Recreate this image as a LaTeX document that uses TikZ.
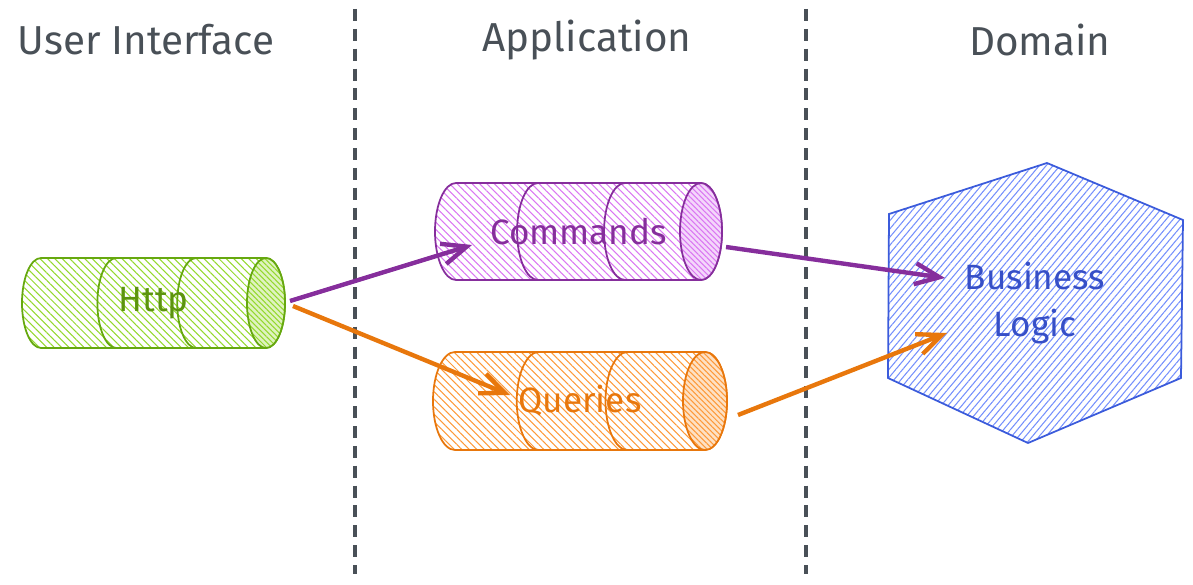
\documentclass[tikz,border=0pt]{standalone}
\usepackage{fontspec}
\setmainfont{Fira Sans}
\usetikzlibrary{arrows.meta,positioning,calc,patterns.meta,backgrounds}
\definecolor{uigray}{HTML}{495057}
\definecolor{httpline}{HTML}{66A80F}
\definecolor{httphatch}{HTML}{94D82D}
\definecolor{httptext}{HTML}{5C940D}
\definecolor{cmdline}{HTML}{862E9C}
\definecolor{cmdhatch}{HTML}{DA77F2}
\definecolor{qryline}{HTML}{E8770C}
\definecolor{qryhatch}{HTML}{FD9A3A}
\definecolor{domline}{HTML}{3B5BDB}
\definecolor{domhatch}{HTML}{748FFC}
\definecolor{domtext}{HTML}{364FC7}

\begin{document}
\begin{tikzpicture}[every node/.style={font=\fontsize{20}{27}\selectfont},
  heading/.style={text=uigray, font=\fontsize{23}{27}\selectfont},
  pipe/.style={inner sep=0pt, outer sep=0pt},
  divider/.style={draw=uigray, line width=2.3pt, dash pattern=on 6.8pt off 4.5pt},
  outline/.style={line width=1pt},
  arr/.style={line width=2.5pt, -{Straight Barb[length=14pt, width=12pt]}}]
\useasboundingbox (0,0) rectangle (23.86,11.68);
% column titles
\node[heading] (ui) at (2.92,10.88) {User Interface};
\node[heading] (app) at (11.74,10.88) {Application};
\node[heading] (dom) at (20.8,10.88) {Domain};
\draw[divider] (7.1,11.5) -- (7.1,0.2);
\draw[divider] (16.12,11.5) -- (16.12,0.2);
% pipes and the domain
\node[pipe, minimum width=4.5cm, minimum height=1.8cm, text=httptext] (http) at (3.07,5.62) {Http};
\node[pipe, minimum width=4.9cm, minimum height=1.94cm, text=cmdline] (cmd) at (11.57,7.05) {Commands};
\node[pipe, minimum width=5cm, minimum height=1.96cm, text=qryline] (qry) at (11.6,3.66) {Queries};
\node[text=domtext, align=center] (logic) at (20.7,5.62) {Business\\Logic};
\begin{scope}[on background layer]
\foreach \n/\ln/\hc/\rx/\ry in {http/httpline/httphatch/0.38cm/0.9cm, cmd/cmdline/cmdhatch/0.42cm/0.97cm, qry/qryline/qryhatch/0.44cm/0.98cm}{
  \draw[outline, \ln, pattern={Lines[angle=-45,distance=3pt,line width=0.6pt]}, pattern color=\hc]
    (\n.north west) arc[start angle=90, end angle=270, x radius=\rx, y radius=\ry]
    -- (\n.south east) arc[start angle=-90, end angle=90, x radius=\rx, y radius=\ry] -- cycle;
  \draw[outline, \ln, preaction={fill=\hc!30}, pattern={Lines[angle=-45,distance=2.2pt,line width=0.6pt]}, pattern color=\hc]
    (\n.east) ellipse[x radius=\rx, y radius=\ry];
  \foreach \f in {0.335,0.69}
    \draw[outline, \ln] ($(\n.north west)!\f!(\n.north east)$) arc[start angle=90, end angle=270, x radius=\rx, y radius=\ry];
}
\draw[outline, domline, pattern={Lines[angle=50,distance=3pt,line width=0.6pt]}, pattern color=domhatch]
  (20.94,8.42) -- (23.66,7.28) -- (23.62,4.12) -- (20.56,2.82) -- (17.76,4.12) -- (17.78,7.4) -- cycle;
\end{scope}
% calls
\draw[arr, cmdline] ($(http.east)+(0.48,0.04)$) -- ($(cmd.west)+(0.32,-0.27)$);
\draw[arr, qryline] ($(http.east)+(0.54,-0.06)$) -- ($(qry.west)+(1.1,0.12)$);
\draw[arr, cmdline] ($(cmd.east)+(0.5,-0.31)$) -- ($(logic.center)+(-1.8,0.5)$);
\draw[arr, qryline] ($(qry.east)+(0.66,-0.28)$) -- ($(logic.center)+(-1.76,-0.6)$);
\end{tikzpicture}
\end{document}
